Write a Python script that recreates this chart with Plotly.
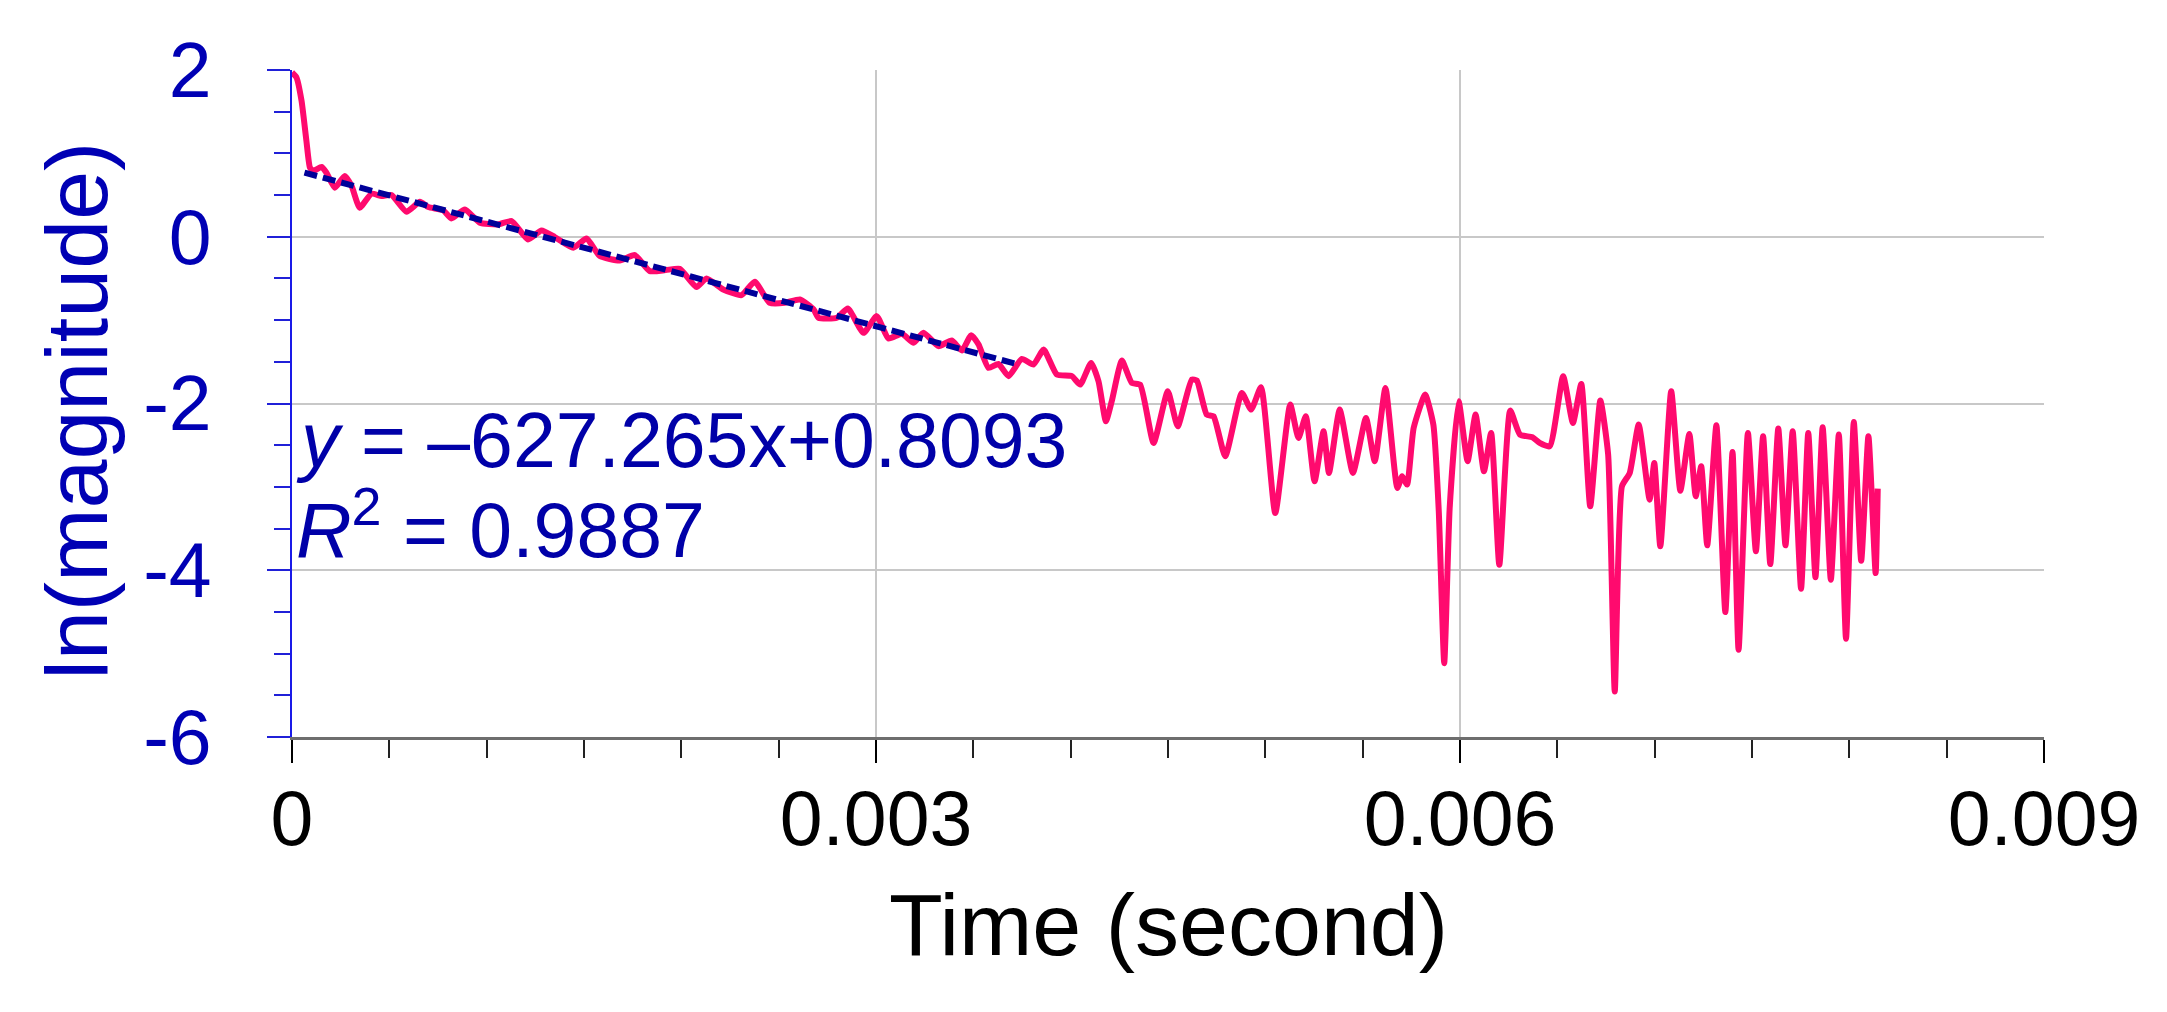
import plotly.graph_objects as go

# ln(magnitude) of the decaying signal
time_s = [
    0.0, 2.3e-5, 4.9e-5, 7.4e-5, 9.2e-5, 1.08e-4, 1.52e-4, 1.77e-4, 2.20e-4, 2.71e-4,
    3.06e-4, 3.48e-4, 4.08e-4, 4.60e-4, 5.11e-4, 5.88e-4, 6.57e-4, 7.00e-4, 7.77e-4, 8.19e-4,
    8.88e-4, 9.65e-4, 1.059e-3, 1.128e-3, 1.213e-3, 1.282e-3, 1.350e-3, 1.445e-3, 1.513e-3, 1.581e-3,
    1.684e-3, 1.761e-3, 1.838e-3, 1.920e-3, 1.992e-3, 2.078e-3, 2.129e-3, 2.215e-3, 2.309e-3, 2.377e-3,
    2.454e-3, 2.532e-3, 2.609e-3, 2.679e-3, 2.705e-3, 2.799e-3, 2.855e-3, 2.936e-3, 3.004e-3, 3.064e-3,
    3.133e-3, 3.193e-3, 3.244e-3, 3.321e-3, 3.389e-3, 3.441e-3, 3.489e-3, 3.527e-3, 3.578e-3, 3.629e-3,
    3.681e-3, 3.749e-3, 3.809e-3, 3.861e-3, 3.929e-3, 4.006e-3, 4.049e-3, 4.105e-3, 4.143e-3, 4.181e-3,
    4.211e-3, 4.263e-3, 4.314e-3, 4.357e-3, 4.426e-3, 4.499e-3, 4.550e-3, 4.622e-3, 4.648e-3, 4.699e-3,
    4.734e-3, 4.794e-3, 4.879e-3, 4.927e-3, 4.978e-3, 5.051e-3, 5.128e-3, 5.170e-3, 5.208e-3, 5.253e-3,
    5.299e-3, 5.327e-3, 5.382e-3, 5.450e-3, 5.517e-3, 5.562e-3, 5.617e-3, 5.678e-3, 5.703e-3, 5.728e-3,
    5.762e-3, 5.821e-3, 5.863e-3, 5.891e-3, 5.919e-3, 5.947e-3, 5.993e-3, 6.039e-3, 6.080e-3, 6.123e-3,
    6.160e-3, 6.202e-3, 6.258e-3, 6.308e-3, 6.372e-3, 6.409e-3, 6.461e-3, 6.530e-3, 6.580e-3, 6.623e-3,
    6.669e-3, 6.721e-3, 6.761e-3, 6.795e-3, 6.832e-3, 6.872e-3, 6.918e-3, 6.974e-3, 6.998e-3, 7.029e-3,
    7.085e-3, 7.132e-3, 7.178e-3, 7.211e-3, 7.239e-3, 7.270e-3, 7.317e-3, 7.363e-3, 7.400e-3, 7.431e-3,
    7.479e-3, 7.520e-3, 7.557e-3, 7.594e-3, 7.635e-3, 7.672e-3, 7.709e-3, 7.752e-3, 7.789e-3, 7.826e-3,
    7.863e-3, 7.905e-3, 7.946e-3, 7.983e-3, 8.023e-3, 8.061e-3, 8.098e-3, 8.135e-3, 8.146e-3,
]
ln_mag = [
    1.97, 1.91, 1.63, 1.15, 0.83, 0.79, 0.837, 0.768, 0.588, 0.729,
    0.609, 0.348, 0.516, 0.488, 0.50, 0.30, 0.42, 0.356, 0.316, 0.22,
    0.328, 0.168, 0.148, 0.188, -0.032, 0.076, -0.004, -0.132, -0.02, -0.232,
    -0.284, -0.22, -0.412, -0.40, -0.384, -0.604, -0.50, -0.632, -0.70, -0.54,
    -0.792, -0.792, -0.752, -0.87, -0.972, -0.972, -0.86, -1.152, -0.952, -1.22,
    -1.164, -1.272, -1.152, -1.312, -1.245, -1.365, -1.18, -1.293, -1.573, -1.525,
    -1.672, -1.465, -1.533, -1.353, -1.653, -1.672, -1.773, -1.513, -1.733, -2.213,
    -1.973, -1.485, -1.753, -1.773, -2.473, -1.853, -2.273, -1.713, -1.725, -2.133,
    -2.153, -2.633, -1.873, -2.073, -1.805, -3.313, -2.013, -2.413, -2.153, -2.933,
    -2.333, -2.833, -2.073, -2.833, -2.173, -2.693, -1.813, -3.013, -2.873, -2.973,
    -2.293, -1.893, -2.253, -3.293, -5.114, -3.253, -1.973, -2.693, -2.133, -2.813,
    -2.353, -3.934, -2.085, -2.373, -2.405, -2.473, -2.513, -1.673, -2.233, -1.765,
    -3.233, -1.965, -2.613, -5.454, -2.993, -2.833, -2.253, -3.153, -2.713, -3.713,
    -1.853, -3.045, -2.365, -3.113, -2.753, -3.701, -2.261, -4.502, -2.581, -4.954,
    -2.353, -3.773, -2.393, -3.926, -2.301, -3.701, -2.333, -4.222, -2.353, -4.085,
    -2.285, -4.114, -2.373, -4.822, -2.221, -3.886, -2.393, -4.034, -3.021,
]

# fitted trend line end points
trend_t = [6.4e-5, 3.722e-3]
trend_y = [0.769, -1.526]

x_tickvals = [0, 0.003, 0.006, 0.009]
x_ticktext = ["0", "0.003", "0.006", "0.009"]
y_tickvals = [2, 0, -2, -4, -6]
y_ticktext = ["2", "0", "-2", "-4", "-6"]

FONT = "Liberation Sans, Arial, sans-serif"
BLUE_TXT = "#0000B4"
NAVY = "#0000A8"

fig = go.Figure()
fig.add_trace(go.Scatter(x=time_s, y=ln_mag, mode="lines",
                         line=dict(color="#FF0A6E", width=6, shape="spline", smoothing=0.5),
                         showlegend=False))
fig.add_trace(go.Scatter(x=trend_t, y=trend_y, mode="lines",
                         line=dict(color="#000099", width=6, dash="13px,6px"),
                         showlegend=False))

fig.update_layout(
    width=2167, height=1012,
    margin=dict(l=284, r=131, t=62, b=283),
    paper_bgcolor="white", plot_bgcolor="white",
    font=dict(family=FONT),
    xaxis=dict(
        range=[0, 0.009], tickvals=x_tickvals, ticktext=x_ticktext,
        tickfont=dict(size=77, color="black"),
        ticks="outside", ticklen=23, tickwidth=2, tickcolor="black",
        ticklabelstandoff=-10,
        minor=dict(dtick=0.0005, ticks="outside", ticklen=18, tickwidth=1.5,
                   tickcolor="#222222", showgrid=False),
        showgrid=True, gridcolor="#C8C8C8", gridwidth=2,
        showline=True, linecolor="#6E6E6E", linewidth=3,
        zeroline=False,
    ),
    yaxis=dict(
        range=[-6, 2], tickvals=y_tickvals, ticktext=y_ticktext,
        tickfont=dict(size=77, color=BLUE_TXT),
        ticks="outside", ticklen=23, tickwidth=2, tickcolor="#2020D8",
        ticklabelstandoff=40,
        minor=dict(dtick=0.5, ticks="outside", ticklen=16, tickwidth=2,
                   tickcolor="#2020D8", showgrid=False),
        showgrid=True, gridcolor="#C8C8C8", gridwidth=2,
        showline=True, linecolor="#1A1AE8", linewidth=2,
        zeroline=False,
    ),
)

fig.add_annotation(text="Time (second)", xref="paper", yref="paper",
                   x=0.5, y=-0.358, xanchor="center", yanchor="bottom",
                   showarrow=False, font=dict(size=88, color="black", family=FONT))
fig.add_annotation(text="ln(magnitude)", xref="paper", yref="paper",
                   x=-0.1229, y=0.4888, xanchor="center", yanchor="middle",
                   textangle=-90, showarrow=False,
                   font=dict(size=88, color=BLUE_TXT, family=FONT))
fig.add_annotation(text="<i>y</i> = \u2013627.265x+0.8093", xref="paper", yref="paper",
                   x=0.0011, y=0.3774, xanchor="left", yanchor="bottom",
                   showarrow=False, font=dict(size=77, color=NAVY, family=FONT))
fig.add_annotation(text="<i>R</i><sup>2</sup> = 0.9887", xref="paper", yref="paper",
                   x=0.0011, y=0.2425, xanchor="left", yanchor="bottom",
                   showarrow=False, font=dict(size=77, color=NAVY, family=FONT))

fig.write_html("out.html")
